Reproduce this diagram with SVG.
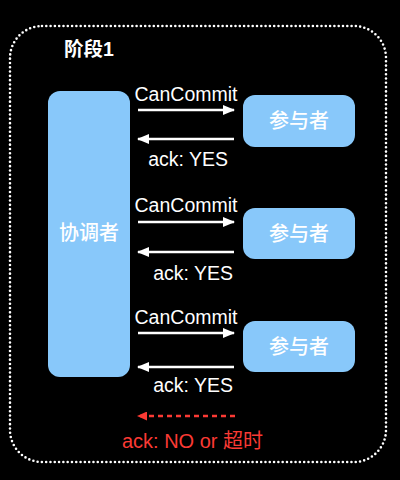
<svg xmlns="http://www.w3.org/2000/svg" width="400" height="480" viewBox="0 0 400 480">
<defs>
<style>
.node{fill:#88c8fa;}
.nt{font-family:"Liberation Sans","Noto Sans CJK SC",sans-serif;font-size:20px;fill:#ffffff;text-anchor:middle;dominant-baseline:central;font-weight:500;}
.lbl{font-family:"Liberation Sans","Noto Sans CJK SC",sans-serif;font-size:19.5px;fill:#ffffff;}
.red{fill:#fb3a34;font-size:20px;}
.arr{stroke:#ffffff;stroke-width:2.5;fill:none;marker-end:url(#ah);}
.darr{stroke:#fb3a34;stroke-width:2.5;fill:none;stroke-dasharray:5 4;marker-end:url(#ahr);}
</style>
<marker id="ah" markerUnits="userSpaceOnUse" markerWidth="12" markerHeight="10" refX="11" refY="5" orient="auto">
<path d="M0,0 L12,5 L0,10 Z" fill="#ffffff"/>
</marker>
<marker id="ahr" markerUnits="userSpaceOnUse" markerWidth="10" markerHeight="9" refX="9" refY="4.5" orient="auto">
<path d="M0,0 L10,4.5 L0,9 Z" fill="#fb3a34"/>
</marker>
</defs>
<rect width="400" height="480" fill="#000000"/>
<rect x="10" y="26" width="376" height="436" rx="32" ry="32" fill="none" stroke="#ffffff" stroke-width="2.6" stroke-linecap="round" stroke-dasharray="0 4.3"/>
<text x="64" y="56" class="lbl" style="font-weight:bold;font-size:19.5px">阶段1</text>

<g id="coordinator">
<rect class="node" x="48" y="91" width="82" height="286" rx="12"/>
<text class="nt" x="89" y="233">协调者</text>
</g>
<g id="participant1">
<rect class="node" x="243" y="95" width="112" height="52" rx="12"/>
<text class="nt" x="299" y="121">参与者</text>
</g>
<g id="participant2">
<rect class="node" x="243" y="208" width="112" height="51" rx="12"/>
<text class="nt" x="299" y="233.5">参与者</text>
</g>
<g id="participant3">
<rect class="node" x="243" y="321" width="112" height="51" rx="12"/>
<text class="nt" x="299" y="346.5">参与者</text>
</g>

<g id="connectors">
<line class="arr" x1="138" y1="110" x2="234" y2="110"/>
<line class="arr" x1="234" y1="139" x2="138" y2="139"/>
<line class="arr" x1="138" y1="222" x2="234" y2="222"/>
<line class="arr" x1="234" y1="252" x2="138" y2="252"/>
<line class="arr" x1="138" y1="333" x2="234" y2="333"/>
<line class="arr" x1="234" y1="367" x2="138" y2="367"/>
<line class="darr" x1="235" y1="416" x2="138" y2="416"/>
</g>

<g id="labels">
<text class="lbl" x="186" y="101" text-anchor="middle">CanCommit</text>
<text class="lbl" x="228" y="166" text-anchor="end">ack: YES</text>
<text class="lbl" x="186" y="212" text-anchor="middle">CanCommit</text>
<text class="lbl" x="233" y="280" text-anchor="end">ack: YES</text>
<text class="lbl" x="186" y="324" text-anchor="middle">CanCommit</text>
<text class="lbl" x="233" y="392" text-anchor="end">ack: YES</text>
<text class="lbl red" x="192.5" y="448" text-anchor="middle">ack: NO or 超时</text>
</g>
</svg>
